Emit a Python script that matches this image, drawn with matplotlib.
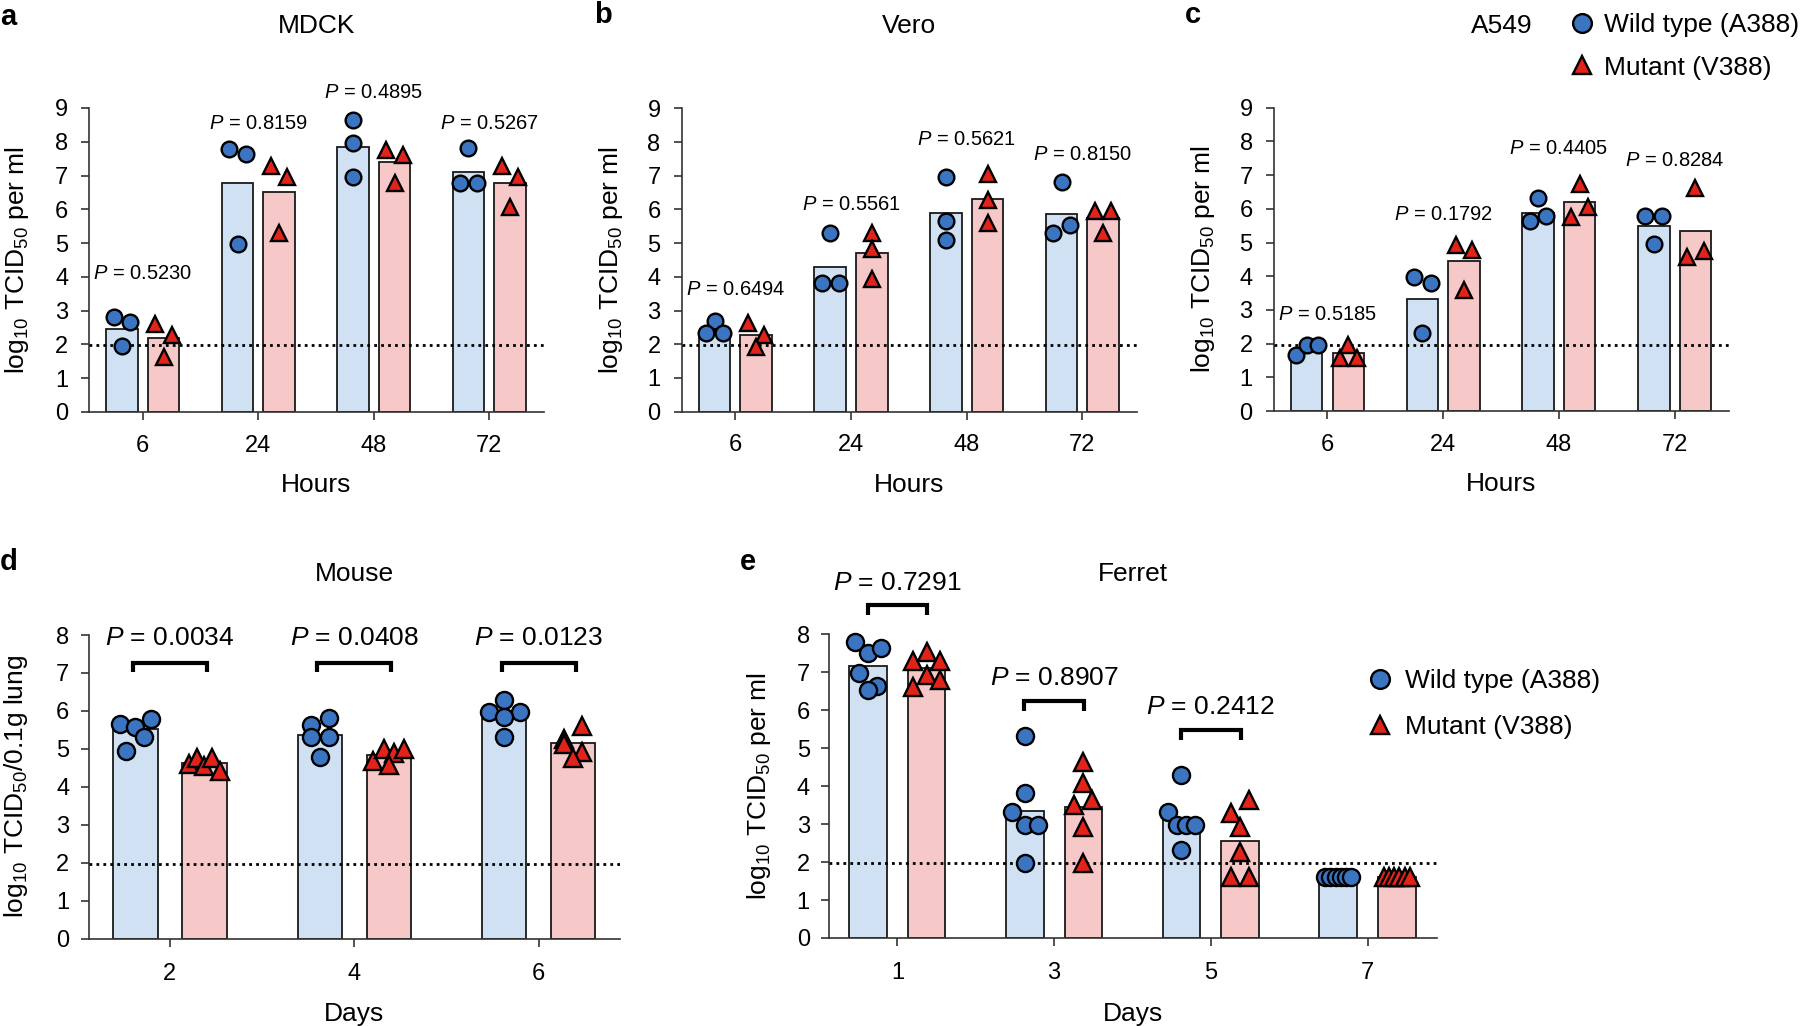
import numpy as np
import matplotlib.pyplot as plt
from matplotlib.lines import Line2D

plt.rcParams['font.family'] = ['Liberation Sans', 'DejaVu Sans']
plt.rcParams['mathtext.fontset'] = 'custom'
plt.rcParams['mathtext.rm'] = 'Liberation Sans'
plt.rcParams['mathtext.it'] = 'Liberation Sans:italic'
plt.rcParams['mathtext.bf'] = 'Liberation Sans:bold'

W, H = 1802, 1026
BLUE_BAR = '#cfe1f3'
RED_BAR = '#f6c8c8'
BLUE_PT = '#3b74c1'
RED_PT = '#e2231a'
AX_COL = '#333333'
MEW = 1.7

# ---------------- data ----------------
hours = ['6', '24', '48', '72']

# a  MDCK
mdck_wt_bar = [2.47, 6.79, 7.85, 7.11]
mdck_mut_bar = [2.20, 6.51, 7.40, 6.79]
mdck_wt = [[2.82, 2.65, 1.96], [7.79, 7.63, 4.97], [8.63, 7.96, 6.97], [7.81, 6.79, 6.79]]
mdck_mut = [[2.62, 2.27, 1.63], [7.27, 6.97, 5.29], [7.76, 7.61, 6.77], [7.27, 6.95, 6.08]]
mdck_p = ['0.5230', '0.8159', '0.4895', '0.5267']
mdck_p_y = [4.10, 8.53, 9.47, 8.55]

# b  Vero
vero_wt_bar = [2.32, 4.29, 5.88, 5.86]
vero_mut_bar = [2.28, 4.70, 6.32, 5.74]
vero_wt = [[2.69, 2.32, 2.32], [5.31, 3.81, 3.81], [6.97, 5.66, 5.09], [6.80, 5.31, 5.54]]
vero_mut = [[2.62, 2.27, 1.93], [5.29, 4.82, 3.93], [7.05, 6.28, 5.61], [5.96, 5.96, 5.29]]
vero_p = ['0.6494', '0.5561', '0.5621', '0.8150']
vero_p_y = [3.63, 6.16, 8.08, 7.64]

# c  A549
a549_wt_bar = [1.80, 3.33, 5.88, 5.50]
a549_mut_bar = [1.72, 4.45, 6.21, 5.34]
a549_wt = [[1.66, 1.96, 1.96], [3.97, 3.81, 2.30], [6.31, 5.64, 5.80], [5.80, 5.80, 4.96]]
a549_mut = [[1.58, 1.96, 1.58], [4.93, 4.78, 3.59], [6.75, 5.77, 6.04], [6.61, 4.58, 4.76]]
a549_p = ['0.5185', '0.1792', '0.4405', '0.8284']
a549_p_y = [2.85, 5.84, 7.79, 7.42]

# d  Mouse
mouse_days = ['2', '4', '6']
mouse_wt_bar = [5.52, 5.36, 5.78]
mouse_mut_bar = [4.64, 4.84, 5.15]
mouse_wt = [[5.65, 5.58, 5.80, 4.95, 5.30],
            [5.63, 5.82, 5.32, 5.30, 4.79],
            [5.98, 6.30, 5.98, 5.85, 5.32]]
mouse_mut = [[4.60, 4.75, 4.56, 4.75, 4.42],
             [4.69, 4.99, 4.88, 4.99, 4.57],
             [5.25, 5.60, 5.13, 4.91, 4.75]]
mouse_p = ['0.0034', '0.0408', '0.0123']
mouse_p_y = [7.92, 7.92, 7.92]
mouse_bracket_y = [7.25, 7.25, 7.25]

# e  Ferret
ferret_days = ['1', '3', '5', '7']
ferret_wt_bar = [7.16, 3.35, 3.15, 1.62]
ferret_mut_bar = [7.10, 3.46, 2.56, 1.62]
ferret_wt = [[7.81, 7.52, 7.65, 6.97, 6.65, 6.53],
             [5.32, 3.81, 3.33, 2.98, 2.98, 1.97],
             [4.29, 3.33, 2.98, 2.98, 2.98, 2.32],
             [1.62, 1.62, 1.62, 1.62, 1.62, 1.62]]
ferret_mut = [[7.30, 7.54, 7.30, 6.62, 6.93, 6.80],
              [4.64, 4.07, 3.50, 3.63, 2.93, 1.97],
              [3.28, 3.63, 2.93, 2.27, 1.62, 1.62],
              [1.62, 1.62, 1.62, 1.62, 1.62, 1.62]]
ferret_p = ['0.7291', '0.8907', '0.2412']
ferret_p_y = [9.36, 6.84, 6.09]
ferret_bracket_y = [8.77, 6.24, 5.48]

detection_limit = 1.97
legend_labels = ['Wild type (A388)', 'Mutant (V388)']


fig = plt.figure(figsize=(W / 100, H / 100), dpi=100)


def px_axes(left, right, top, bottom):
    return fig.add_axes([left / W, 1 - bottom / H, (right - left) / W, (bottom - top) / H])


def swarm(vals, xpx, ypx, d_px, span_px, row_frac):
    # prism-like scatter: points closer than a marker are put side by side
    vals = np.asarray(vals, dtype=float)
    order = np.argsort(-vals, kind='stable')
    rows = []
    for i in order:
        if rows and (vals[rows[-1][0]] - vals[i]) * ypx < row_frac * d_px:
            rows[-1].append(i)
        else:
            rows.append([i])
    offs = np.zeros(len(vals))
    for r in rows:
        r = sorted(r)
        n = len(r)
        if n > 1:
            step = min(0.92 * d_px, span_px / (n - 1))
            for k, i in enumerate(r):
                offs[i] = (k - (n - 1) / 2) * step / xpx
    return offs


def panel(box, cats, wt_bar, mut_bar, wt_pts, mut_pts, ytop, xlim, bar_w, bar_off,
          ms, row_frac, ylabel, xlabel, ylab_x, xlab_y, ypad, xpad):
    ax = px_axes(*box)
    xpx = (box[1] - box[0]) / (xlim[1] - xlim[0])
    ypx = (box[3] - box[2]) / ytop
    d_px = (ms + MEW) * 100 / 72
    x = np.arange(len(cats))
    ax.bar(x - bar_off, wt_bar, bar_w, color=BLUE_BAR, edgecolor='#1a1a1a', lw=1.3, zorder=2)
    ax.bar(x + bar_off, mut_bar, bar_w, color=RED_BAR, edgecolor='#1a1a1a', lw=1.3, zorder=2)
    ax.axhline(detection_limit, color='black', lw=2.0, ls=(0, (1, 1.5)), zorder=3)
    span = 0.7 * bar_w * xpx
    for i in range(len(cats)):
        xo = swarm(wt_pts[i], xpx, ypx, d_px, span, row_frac)
        ax.plot(i - bar_off + xo, wt_pts[i], 'o', ms=ms, mfc=BLUE_PT, mec='black',
                mew=MEW, ls='none', clip_on=False, zorder=4)
        xo = swarm(mut_pts[i], xpx, ypx, d_px, span, row_frac)
        ax.plot(i + bar_off + xo, mut_pts[i], '^', ms=ms, mfc=RED_PT, mec='black',
                mew=MEW, ls='none', clip_on=False, zorder=4)
    ax.set_xlim(*xlim)
    ax.set_ylim(0, ytop)
    ax.set_xticks(x)
    ax.set_xticklabels(cats)
    ax.set_yticks(range(0, ytop + 1))
    for s in ['top', 'right']:
        ax.spines[s].set_visible(False)
    for s in ['left', 'bottom']:
        ax.spines[s].set_linewidth(1.2)
        ax.spines[s].set_color(AX_COL)
    ax.tick_params(direction='out', length=5.7, width=1.2, color=AX_COL, labelsize=17)
    ax.tick_params(axis='y', pad=ypad)
    ax.tick_params(axis='x', pad=xpad)
    ax.set_ylabel(ylabel, fontsize=19)
    ax.yaxis.set_label_coords(ylab_x, 0.5)
    ax.set_xlabel(xlabel, fontsize=19)
    ax.xaxis.set_label_coords(0.5, xlab_y)
    return ax


ylab_ml = r'log$_{10}$ TCID$_{50}$ per ml'

# ---- top row ----
top_panels = [
    ((89.3, 543.5, 108, 412), mdck_wt_bar, mdck_mut_bar, mdck_wt, mdck_mut, mdck_p, mdck_p_y, -0.128),
    ((681.7, 1136.7, 108.3, 411.7), vero_wt_bar, vero_mut_bar, vero_wt, vero_mut, vero_p, vero_p_y, -0.125),
    ((1273.8, 1729, 107.7, 411), a549_wt_bar, a549_mut_bar, a549_wt, a549_mut, a549_p, a549_p_y, -0.125),
]
for box, wb, mb, wp, mp, pv, py, ylx in top_panels:
    ax = panel(box, hours, wb, mb, wp, mp, 9, (-0.464, 3.47), 0.272, 0.18, 11.3, 0.68,
               ylab_ml, 'Hours', ylx, -0.202, 9.5, 10.5)
    for i, (p, y) in enumerate(zip(pv, py)):
        ax.text(i, y, r'$P$ = ' + p, ha='center', va='center', fontsize=14.5, clip_on=False)

# ---- mouse ----
ax_d = panel((88.6, 619.9, 635, 938.7), mouse_days, mouse_wt_bar, mouse_mut_bar,
             mouse_wt, mouse_mut, 8, (-0.441, 2.44), 0.24, 0.187, 12.3, 0.7,
             r'log$_{10}$ TCID$_{50}$/0.1g lung', 'Days', -0.110, -0.207, 8.3, 11.5)
for i, (p, y, by) in enumerate(zip(mouse_p, mouse_p_y, mouse_bracket_y)):
    ax_d.text(i, y, r'$P$ = ' + p, ha='center', va='center', fontsize=19, clip_on=False)
    ax_d.plot([i - 0.2, i - 0.2, i + 0.2, i + 0.2], [by - 0.22, by, by, by - 0.22],
              color='black', lw=3, clip_on=False, solid_joinstyle='miter', solid_capstyle='butt')

# ---- ferret ----
ax_e = panel((829.3, 1436.5, 634.3, 938), ferret_days, ferret_wt_bar, ferret_mut_bar,
             ferret_wt, ferret_mut, 8, (-0.434, 3.44), 0.24, 0.187, 12.3, 0.7,
             ylab_ml, 'Days', -0.093, -0.21, 8.3, 11.5)
for i, (p, y, by) in enumerate(zip(ferret_p, ferret_p_y, ferret_bracket_y)):
    ax_e.text(i, y, r'$P$ = ' + p, ha='center', va='center', fontsize=19, clip_on=False)
    ax_e.plot([i - 0.19, i - 0.19, i + 0.19, i + 0.19], [by - 0.26, by, by, by - 0.26],
              color='black', lw=3, clip_on=False, solid_joinstyle='miter', solid_capstyle='butt')

# ---- titles and panel letters ----
for txt, xc, yc in [('MDCK', 316.4, 26), ('Vero', 909, 26), ('A549', 1501.8, 26),
                    ('Mouse', 354.4, 574), ('Ferret', 1133, 574)]:
    fig.text(xc / W, 1 - yc / H, txt, ha='center', va='center', fontsize=19)
for txt, xl, yb in [('a', 0, 25), ('b', 594, 23), ('c', 1185, 23), ('d', 0, 570), ('e', 740, 570)]:
    fig.text(xl / W, 1 - yb / H, txt, ha='left', va='baseline', fontsize=21, fontweight='bold')

# ---- legends ----
handles = [Line2D([], [], marker='o', ls='none', ms=13.5, mfc=BLUE_PT, mec='black', mew=MEW),
           Line2D([], [], marker='^', ls='none', ms=13.5, mfc=RED_PT, mec='black', mew=MEW)]
fig.legend(handles, legend_labels, loc='center left', bbox_to_anchor=(1571 / W, 1 - 46.5 / H),
           frameon=False, fontsize=19, handlelength=0.8, handletextpad=0.45,
           borderpad=0, borderaxespad=0, labelspacing=0.7)
fig.legend(handles, legend_labels, loc='center left', bbox_to_anchor=(1369.4 / W, 1 - 704.2 / H),
           frameon=False, fontsize=19, handlelength=0.8, handletextpad=0.55,
           borderpad=0, borderaxespad=0, labelspacing=0.85)

fig.savefig('out.png', dpi=100)
